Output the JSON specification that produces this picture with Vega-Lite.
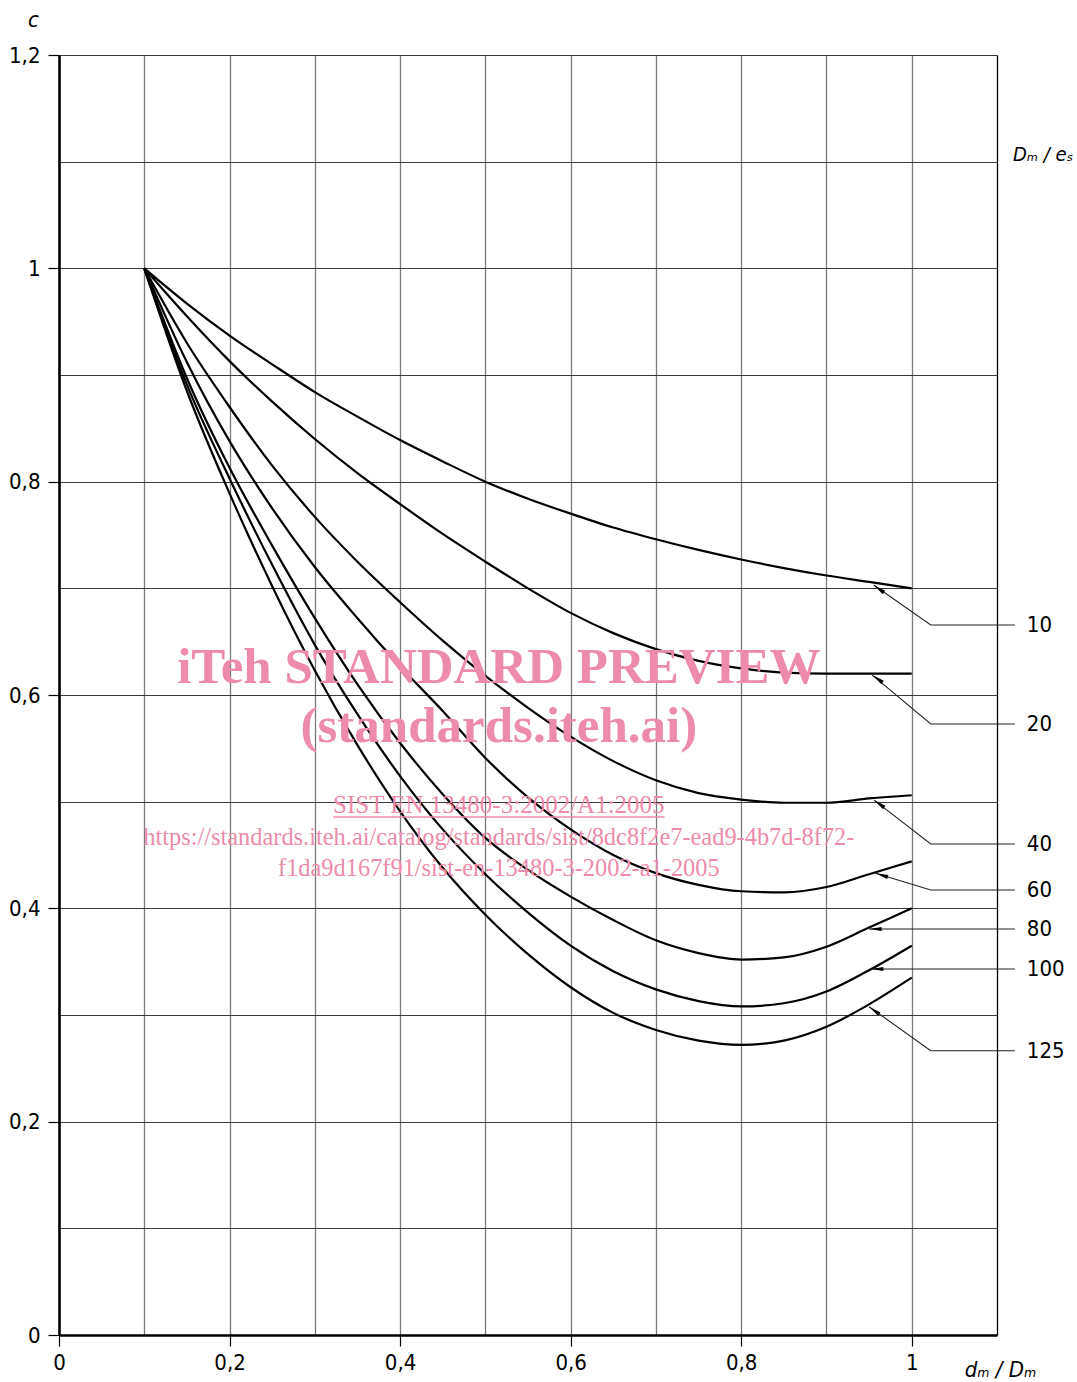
{
  "$schema": "https://vega.github.io/schema/vega-lite/v6.json",
  "width": 938,
  "height": 1280,
  "autosize": {"type": "none"},
  "padding": {"left": 59, "top": 55, "right": 80, "bottom": 47},
  "background": "#ffffff",
  "config": {
    "view": {"stroke": null},
    "axis": {"labelFont": "DejaVu Sans Condensed", "labelFontSize": 22, "labelColor": "#000000"}
  },
  "datasets": {
    "curves": [
      {"De": 10, "x": 0.1, "c": 1.0}, {"De": 10, "x": 0.15, "c": 0.967}, {"De": 10, "x": 0.2, "c": 0.937}, {"De": 10, "x": 0.25, "c": 0.91}, {"De": 10, "x": 0.3, "c": 0.884}, {"De": 10, "x": 0.35, "c": 0.861}, {"De": 10, "x": 0.4, "c": 0.839}, {"De": 10, "x": 0.45, "c": 0.819}, {"De": 10, "x": 0.5, "c": 0.8}, {"De": 10, "x": 0.55, "c": 0.784}, {"De": 10, "x": 0.6, "c": 0.77}, {"De": 10, "x": 0.65, "c": 0.757}, {"De": 10, "x": 0.7, "c": 0.746}, {"De": 10, "x": 0.75, "c": 0.736}, {"De": 10, "x": 0.8, "c": 0.727}, {"De": 10, "x": 0.85, "c": 0.719}, {"De": 10, "x": 0.9, "c": 0.712}, {"De": 10, "x": 0.95, "c": 0.706}, {"De": 10, "x": 1.0, "c": 0.7},
      {"De": 20, "x": 0.1, "c": 1.0}, {"De": 20, "x": 0.15, "c": 0.955}, {"De": 20, "x": 0.2, "c": 0.913}, {"De": 20, "x": 0.25, "c": 0.875}, {"De": 20, "x": 0.3, "c": 0.84}, {"De": 20, "x": 0.35, "c": 0.808}, {"De": 20, "x": 0.4, "c": 0.779}, {"De": 20, "x": 0.45, "c": 0.751}, {"De": 20, "x": 0.5, "c": 0.725}, {"De": 20, "x": 0.55, "c": 0.7}, {"De": 20, "x": 0.6, "c": 0.677}, {"De": 20, "x": 0.65, "c": 0.658}, {"De": 20, "x": 0.7, "c": 0.643}, {"De": 20, "x": 0.75, "c": 0.632}, {"De": 20, "x": 0.8, "c": 0.625}, {"De": 20, "x": 0.85, "c": 0.621}, {"De": 20, "x": 0.9, "c": 0.62}, {"De": 20, "x": 0.95, "c": 0.62}, {"De": 20, "x": 1.0, "c": 0.62},
      {"De": 40, "x": 0.1, "c": 1.0}, {"De": 40, "x": 0.15, "c": 0.93}, {"De": 40, "x": 0.2, "c": 0.87}, {"De": 40, "x": 0.25, "c": 0.815}, {"De": 40, "x": 0.3, "c": 0.767}, {"De": 40, "x": 0.35, "c": 0.725}, {"De": 40, "x": 0.4, "c": 0.687}, {"De": 40, "x": 0.45, "c": 0.651}, {"De": 40, "x": 0.5, "c": 0.618}, {"De": 40, "x": 0.55, "c": 0.588}, {"De": 40, "x": 0.6, "c": 0.561}, {"De": 40, "x": 0.65, "c": 0.538}, {"De": 40, "x": 0.7, "c": 0.52}, {"De": 40, "x": 0.75, "c": 0.508}, {"De": 40, "x": 0.8, "c": 0.502}, {"De": 40, "x": 0.85, "c": 0.499}, {"De": 40, "x": 0.9, "c": 0.499}, {"De": 40, "x": 0.95, "c": 0.503}, {"De": 40, "x": 1.0, "c": 0.506},
      {"De": 60, "x": 0.1, "c": 1.0}, {"De": 60, "x": 0.15, "c": 0.912}, {"De": 60, "x": 0.2, "c": 0.838}, {"De": 60, "x": 0.25, "c": 0.775}, {"De": 60, "x": 0.3, "c": 0.72}, {"De": 60, "x": 0.35, "c": 0.672}, {"De": 60, "x": 0.4, "c": 0.627}, {"De": 60, "x": 0.45, "c": 0.585}, {"De": 60, "x": 0.5, "c": 0.541}, {"De": 60, "x": 0.55, "c": 0.504}, {"De": 60, "x": 0.6, "c": 0.474}, {"De": 60, "x": 0.65, "c": 0.45}, {"De": 60, "x": 0.7, "c": 0.433}, {"De": 60, "x": 0.75, "c": 0.422}, {"De": 60, "x": 0.8, "c": 0.416}, {"De": 60, "x": 0.85, "c": 0.415}, {"De": 60, "x": 0.9, "c": 0.42}, {"De": 60, "x": 0.95, "c": 0.432}, {"De": 60, "x": 1.0, "c": 0.444},
      {"De": 80, "x": 0.1, "c": 1.0}, {"De": 80, "x": 0.15, "c": 0.897}, {"De": 80, "x": 0.2, "c": 0.813}, {"De": 80, "x": 0.25, "c": 0.74}, {"De": 80, "x": 0.3, "c": 0.672}, {"De": 80, "x": 0.35, "c": 0.61}, {"De": 80, "x": 0.4, "c": 0.555}, {"De": 80, "x": 0.45, "c": 0.507}, {"De": 80, "x": 0.5, "c": 0.466}, {"De": 80, "x": 0.55, "c": 0.436}, {"De": 80, "x": 0.6, "c": 0.411}, {"De": 80, "x": 0.65, "c": 0.389}, {"De": 80, "x": 0.7, "c": 0.37}, {"De": 80, "x": 0.75, "c": 0.358}, {"De": 80, "x": 0.8, "c": 0.352}, {"De": 80, "x": 0.85, "c": 0.354}, {"De": 80, "x": 0.9, "c": 0.364}, {"De": 80, "x": 0.95, "c": 0.382}, {"De": 80, "x": 1.0, "c": 0.4},
      {"De": 100, "x": 0.1, "c": 1.0}, {"De": 100, "x": 0.15, "c": 0.891}, {"De": 100, "x": 0.2, "c": 0.803}, {"De": 100, "x": 0.25, "c": 0.722}, {"De": 100, "x": 0.3, "c": 0.647}, {"De": 100, "x": 0.35, "c": 0.582}, {"De": 100, "x": 0.4, "c": 0.524}, {"De": 100, "x": 0.45, "c": 0.474}, {"De": 100, "x": 0.5, "c": 0.432}, {"De": 100, "x": 0.55, "c": 0.396}, {"De": 100, "x": 0.6, "c": 0.365}, {"De": 100, "x": 0.65, "c": 0.341}, {"De": 100, "x": 0.7, "c": 0.324}, {"De": 100, "x": 0.75, "c": 0.313}, {"De": 100, "x": 0.8, "c": 0.308}, {"De": 100, "x": 0.85, "c": 0.311}, {"De": 100, "x": 0.9, "c": 0.322}, {"De": 100, "x": 0.95, "c": 0.342}, {"De": 100, "x": 1.0, "c": 0.365},
      {"De": 125, "x": 0.1, "c": 1.0}, {"De": 125, "x": 0.15, "c": 0.885}, {"De": 125, "x": 0.2, "c": 0.789}, {"De": 125, "x": 0.25, "c": 0.702}, {"De": 125, "x": 0.3, "c": 0.623}, {"De": 125, "x": 0.35, "c": 0.553}, {"De": 125, "x": 0.4, "c": 0.491}, {"De": 125, "x": 0.45, "c": 0.438}, {"De": 125, "x": 0.5, "c": 0.394}, {"De": 125, "x": 0.55, "c": 0.357}, {"De": 125, "x": 0.6, "c": 0.326}, {"De": 125, "x": 0.65, "c": 0.302}, {"De": 125, "x": 0.7, "c": 0.286}, {"De": 125, "x": 0.75, "c": 0.276}, {"De": 125, "x": 0.8, "c": 0.272}, {"De": 125, "x": 0.85, "c": 0.276}, {"De": 125, "x": 0.9, "c": 0.289}, {"De": 125, "x": 0.95, "c": 0.31}, {"De": 125, "x": 1.0, "c": 0.335}
    ],
    "leaders": [
      {"label": "10", "pt": "tip", "seq": 0, "x": 0.9554, "c": 0.7031}, {"label": "10", "pt": "elbow", "seq": 1, "x": 1.0223, "c": 0.6656}, {"label": "10", "pt": "end", "seq": 2, "x": 1.1209, "c": 0.6656},
      {"label": "20", "pt": "tip", "seq": 0, "x": 0.9538, "c": 0.6187}, {"label": "20", "pt": "elbow", "seq": 1, "x": 1.0223, "c": 0.5728}, {"label": "20", "pt": "end", "seq": 2, "x": 1.1209, "c": 0.5728},
      {"label": "40", "pt": "tip", "seq": 0, "x": 0.9558, "c": 0.5015}, {"label": "40", "pt": "elbow", "seq": 1, "x": 1.0223, "c": 0.4603}, {"label": "40", "pt": "end", "seq": 2, "x": 1.1209, "c": 0.4603},
      {"label": "60", "pt": "tip", "seq": 0, "x": 0.9577, "c": 0.4328}, {"label": "60", "pt": "elbow", "seq": 1, "x": 1.0223, "c": 0.4172}, {"label": "60", "pt": "end", "seq": 2, "x": 1.1209, "c": 0.4172},
      {"label": "80", "pt": "tip", "seq": 0, "x": 0.9499, "c": 0.3806}, {"label": "80", "pt": "end", "seq": 1, "x": 1.1209, "c": 0.3806},
      {"label": "100", "pt": "tip", "seq": 0, "x": 0.9519, "c": 0.3431}, {"label": "100", "pt": "end", "seq": 1, "x": 1.1209, "c": 0.3431},
      {"label": "125", "pt": "tip", "seq": 0, "x": 0.9499, "c": 0.3078}, {"label": "125", "pt": "elbow", "seq": 1, "x": 1.0223, "c": 0.2665}, {"label": "125", "pt": "end", "seq": 2, "x": 1.1209, "c": 0.2665}
    ]
  },
  "layer": [
    {
      "data": {"name": "curves"},
      "mark": {"type": "line", "color": "#000000", "strokeWidth": 2.2, "interpolate": "monotone"},
      "encoding": {
        "x": {
          "field": "x", "type": "quantitative",
          "scale": {"domain": [0, 1.1], "nice": false, "zero": false},
          "axis": {
            "values": [0, 0.1, 0.2, 0.3, 0.4, 0.5, 0.6, 0.7, 0.8, 0.9, 1.0, 1.1],
            "grid": true,
            "gridColor": {"condition": {"test": "datum.value > 1.05", "value": "#000000"}, "value": "#7a7a7a"},
            "gridWidth": 1.3,
            "gridOpacity": {"condition": {"test": "datum.value < 0.05", "value": 0}, "value": 1},
            "tickOpacity": {"condition": {"test": "round(datum.value*10) % 2 === 0 && datum.value < 1.05", "value": 1}, "value": 0},
            "tickSize": 11, "tickColor": "#000000", "tickWidth": 1.2,
            "labelExpr": "round(datum.value*10) % 2 === 0 && datum.value < 1.05 ? replace(format(datum.value, '.1~f'), '.', ',') : ''",
            "labelFlush": false, "labelOverlap": false, "labelPadding": 6,
            "domainColor": "#000000", "domainWidth": 2.6,
            "title": "dₘ / Dₘ", "titleX": 941, "titleY": 34,
            "titleFont": "DejaVu Sans Condensed", "titleFontSize": 22, "titleFontStyle": "italic", "titleFontWeight": "normal",
            "titleAlign": "center", "titleBaseline": "middle", "titleColor": "#000000"
          }
        },
        "y": {
          "field": "c", "type": "quantitative",
          "scale": {"domain": [0, 1.2], "nice": false, "zero": false},
          "axis": {
            "values": [0, 0.1, 0.2, 0.3, 0.4, 0.5, 0.6, 0.7, 0.8, 0.9, 1.0, 1.1, 1.2],
            "grid": true,
            "gridColor": "#3a3a3a",
            "gridWidth": 1,
            "gridOpacity": {"condition": {"test": "datum.value < 0.05", "value": 0}, "value": 1},
            "tickOpacity": {"condition": {"test": "round(datum.value*10) % 2 === 0", "value": 1}, "value": 0},
            "tickSize": 11, "tickColor": "#000000", "tickWidth": 1.2,
            "labelExpr": "round(datum.value*10) % 2 === 0 ? replace(format(datum.value, '.1~f'), '.', ',') : ''",
            "labelFlush": false, "labelOverlap": false, "labelPadding": 8,
            "domainColor": "#000000", "domainWidth": 2.6,
            "title": "c", "titleAngle": 0, "titleX": -26, "titleY": -36,
            "titleFont": "DejaVu Sans Condensed", "titleFontSize": 22, "titleFontStyle": "italic", "titleFontWeight": "normal",
            "titleAlign": "center", "titleBaseline": "middle", "titleColor": "#000000"
          }
        },
        "detail": {"field": "De", "type": "nominal"}
      }
    },
    {
      "data": {"name": "leaders"},
      "mark": {"type": "line", "color": "#222222", "strokeWidth": 1.1},
      "encoding": {
        "x": {"field": "x", "type": "quantitative"},
        "y": {"field": "c", "type": "quantitative"},
        "detail": {"field": "label", "type": "nominal"},
        "order": {"field": "seq", "type": "quantitative"}
      }
    },
    {
      "data": {"name": "leaders"},
      "transform": [{"filter": "datum.pt === 'tip' && (datum.label === '10' || datum.label === '20' || datum.label === '40' || datum.label === '125')"}],
      "mark": {"type": "point", "shape": "M0,0L0.33,2L-0.33,2Z", "size": 160, "filled": true, "color": "#000000", "opacity": 1, "angle": 306},
      "encoding": {"x": {"field": "x", "type": "quantitative"}, "y": {"field": "c", "type": "quantitative"}}
    },
    {
      "data": {"name": "leaders"},
      "transform": [{"filter": "datum.pt === 'tip' && datum.label === '60'"}],
      "mark": {"type": "point", "shape": "M0,0L0.33,2L-0.33,2Z", "size": 160, "filled": true, "color": "#000000", "opacity": 1, "angle": 287},
      "encoding": {"x": {"field": "x", "type": "quantitative"}, "y": {"field": "c", "type": "quantitative"}}
    },
    {
      "data": {"name": "leaders"},
      "transform": [{"filter": "datum.pt === 'tip' && (datum.label === '80' || datum.label === '100')"}],
      "mark": {"type": "point", "shape": "M0,0L0.33,2L-0.33,2Z", "size": 160, "filled": true, "color": "#000000", "opacity": 1, "angle": 270},
      "encoding": {"x": {"field": "x", "type": "quantitative"}, "y": {"field": "c", "type": "quantitative"}}
    },
    {
      "data": {"name": "leaders"},
      "transform": [{"filter": "datum.pt === 'end'"}],
      "mark": {"type": "text", "align": "left", "baseline": "middle", "dx": 12, "font": "DejaVu Sans Condensed", "fontSize": 22, "color": "#000000"},
      "encoding": {
        "x": {"field": "x", "type": "quantitative"},
        "y": {"field": "c", "type": "quantitative"},
        "text": {"field": "label", "type": "nominal"}
      }
    },
    {
      "data": {"values": [{}]},
      "mark": {"type": "text", "text": "Dₘ / eₛ", "align": "right", "baseline": "middle", "font": "DejaVu Sans Condensed", "fontSize": 20, "fontStyle": "italic", "color": "#000000"},
      "encoding": {"x": {"datum": 1.1895, "type": "quantitative"}, "y": {"datum": 1.106, "type": "quantitative"}}
    },
    {
      "data": {"values": [{}]},
      "mark": {"type": "text", "text": "iTeh STANDARD PREVIEW", "align": "center", "baseline": "middle", "font": "Liberation Serif", "fontSize": 51, "fontWeight": "bold", "color": "#ec8bab"},
      "encoding": {"x": {"datum": 0.5158, "type": "quantitative"}, "y": {"datum": 0.6253, "type": "quantitative"}}
    },
    {
      "data": {"values": [{}]},
      "mark": {"type": "text", "text": "(standards.iteh.ai)", "align": "center", "baseline": "middle", "font": "Liberation Serif", "fontSize": 51, "fontWeight": "bold", "color": "#ec8bab"},
      "encoding": {"x": {"datum": 0.5158, "type": "quantitative"}, "y": {"datum": 0.57, "type": "quantitative"}}
    },
    {
      "data": {"values": [{}]},
      "mark": {"type": "text", "text": "SIST EN 13480-3:2002/A1:2005", "align": "center", "baseline": "middle", "font": "Liberation Serif", "fontSize": 25, "color": "#ec8bab"},
      "encoding": {"x": {"datum": 0.5158, "type": "quantitative"}, "y": {"datum": 0.497, "type": "quantitative"}}
    },
    {
      "data": {"values": [{}]},
      "mark": {"type": "rule", "color": "#ec8bab", "strokeWidth": 1.5},
      "encoding": {
        "x": {"datum": 0.3216, "type": "quantitative"}, "x2": {"datum": 0.7101},
        "y": {"datum": 0.4856, "type": "quantitative"}
      }
    },
    {
      "data": {"values": [{}]},
      "mark": {"type": "text", "text": "https://standards.iteh.ai/catalog/standards/sist/8dc8f2e7-ead9-4b7d-8f72-", "align": "center", "baseline": "middle", "font": "Liberation Serif", "fontSize": 24.4, "color": "#ec8bab"},
      "encoding": {"x": {"datum": 0.5158, "type": "quantitative"}, "y": {"datum": 0.466, "type": "quantitative"}}
    },
    {
      "data": {"values": [{}]},
      "mark": {"type": "text", "text": "f1da9d167f91/sist-en-13480-3-2002-a1-2005", "align": "center", "baseline": "middle", "font": "Liberation Serif", "fontSize": 24.4, "color": "#ec8bab"},
      "encoding": {"x": {"datum": 0.5158, "type": "quantitative"}, "y": {"datum": 0.4369, "type": "quantitative"}}
    }
  ]
}
